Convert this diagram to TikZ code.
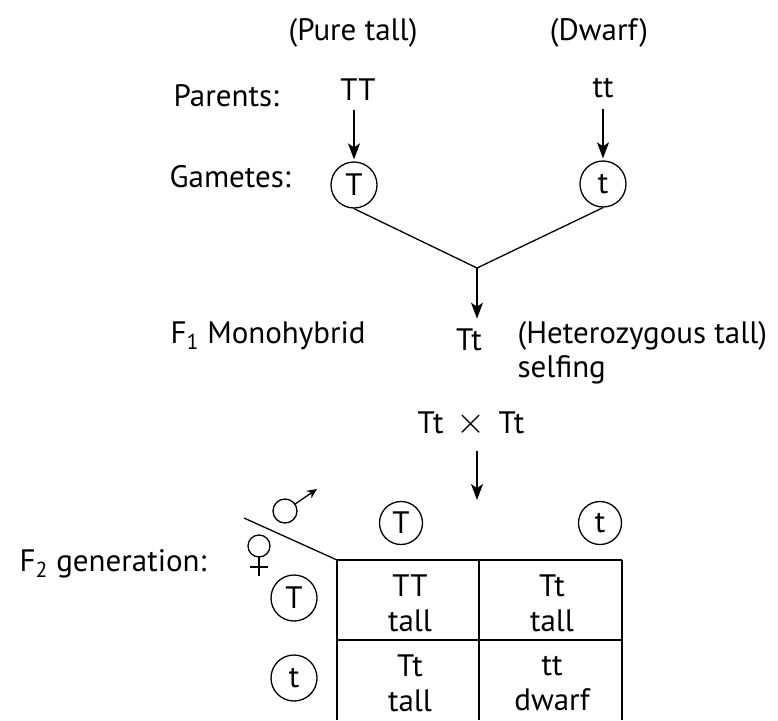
\documentclass[tikz,border=0pt]{standalone}
\usepackage{fontspec}
\setmainfont{PT Sans}
\usetikzlibrary{arrows.meta,positioning}

\begin{document}
\begin{tikzpicture}[x=1pt,y=-1pt,line width=1.3pt,
    font=\fontsize{31}{35}\selectfont,
    gamete/.style={circle,draw,minimum size=46pt,inner sep=0pt},
    lbl/.style={anchor=base west,inner sep=0pt},
    geno/.style={anchor=base,inner sep=0pt},
    cell/.style={align=center,inner sep=0pt},
    arr/.style={-{Stealth[length=16pt,width=12pt,inset=4pt]}}]
  \useasboundingbox (0,0) rectangle (778,720);

  % parents and gametes
  \node[geno] (pure) at (353,40) {(Pure tall)};
  \node[geno] (dwarf) at (599,40) {(Dwarf)};
  \node[lbl] (parents) at (173,106) {Parents:};
  \node[geno] (TT) at (358,100) {TT};
  \node[geno] (tt) at (603,97) {tt};
  \node[lbl] (gametes) at (169,187) {Gametes:};
  \node[gamete] (gT) at (354,185) {T};
  \node[gamete] (gt) at (603,184) {t};
  \draw[arr,shorten <=9pt,shorten >=2pt] (gT.north |- TT.south) -- (gT.north);
  \draw[arr,shorten <=11pt,shorten >=2pt] (gt.north |- tt.south) -- (gt.north);

  % F1
  \coordinate (jn) at (477,268);
  \draw (gT.south) -- (jn) -- (gt.south);
  \node[lbl] (f1lbl) at (170,343) {F\textsubscript{1} Monohybrid};
  \node[geno] (f1) at (469,350) {Tt};
  \node[lbl] (hetero) at (517,343) {(Heterozygous tall)};
  \node[lbl] (selfing) at (517,377) {selfing};
  \draw[arr,shorten >=9pt] (jn) -- (jn |- f1.north);

  \node[geno] (cross) at (471,433) {Tt\hspace{13pt}\scalebox{1.5}{$\times$}\hspace{13pt}Tt};
  \coordinate (into) at (477,500);
  \draw[arr,shorten <=14pt] (jn |- cross.south) -- (into);

  % F2 checkerboard
  \node[lbl] (f2lbl) at (19,571) {F\textsubscript{2} generation:};
  \node[gamete,minimum size=43pt] (hT) at (401,523) {T};
  \node[gamete,minimum size=43pt] (ht) at (600,523) {t};
  \node[gamete] (rT) at (294,598) {T};
  \node[gamete] (rt) at (294,678) {t};

  \coordinate (tl) at (337,560);
  \coordinate (tr) at (622,560);
  \draw (tl) -- (tr);
  \draw (337,640) -- (622,640);
  \draw (tl) -- (337,720);
  \draw (479,560) -- (479,720);
  \draw (tr) -- (622,720);
  \draw (244,518) -- (tl);

  % male and female signs
  \draw (285,511) circle[radius=12pt];
  \draw[-{Stealth[length=10pt,width=9pt]}] (285,511) ++(-34.5:12) -- (317,489);
  \draw (259,546) circle[radius=11pt];
  \draw (259,557) -- (259,576);
  \draw (250,567) -- (268,567);

  \node[cell] (cTT) at (410,603) {TT\\tall};
  \node[cell] (cTt) at (552,603) {Tt\\tall};
  \node[cell] (ctT) at (410,683) {Tt\\tall};
  \node[cell] (ctt) at (552,684) {tt\\dwarf};
\end{tikzpicture}
\end{document}
